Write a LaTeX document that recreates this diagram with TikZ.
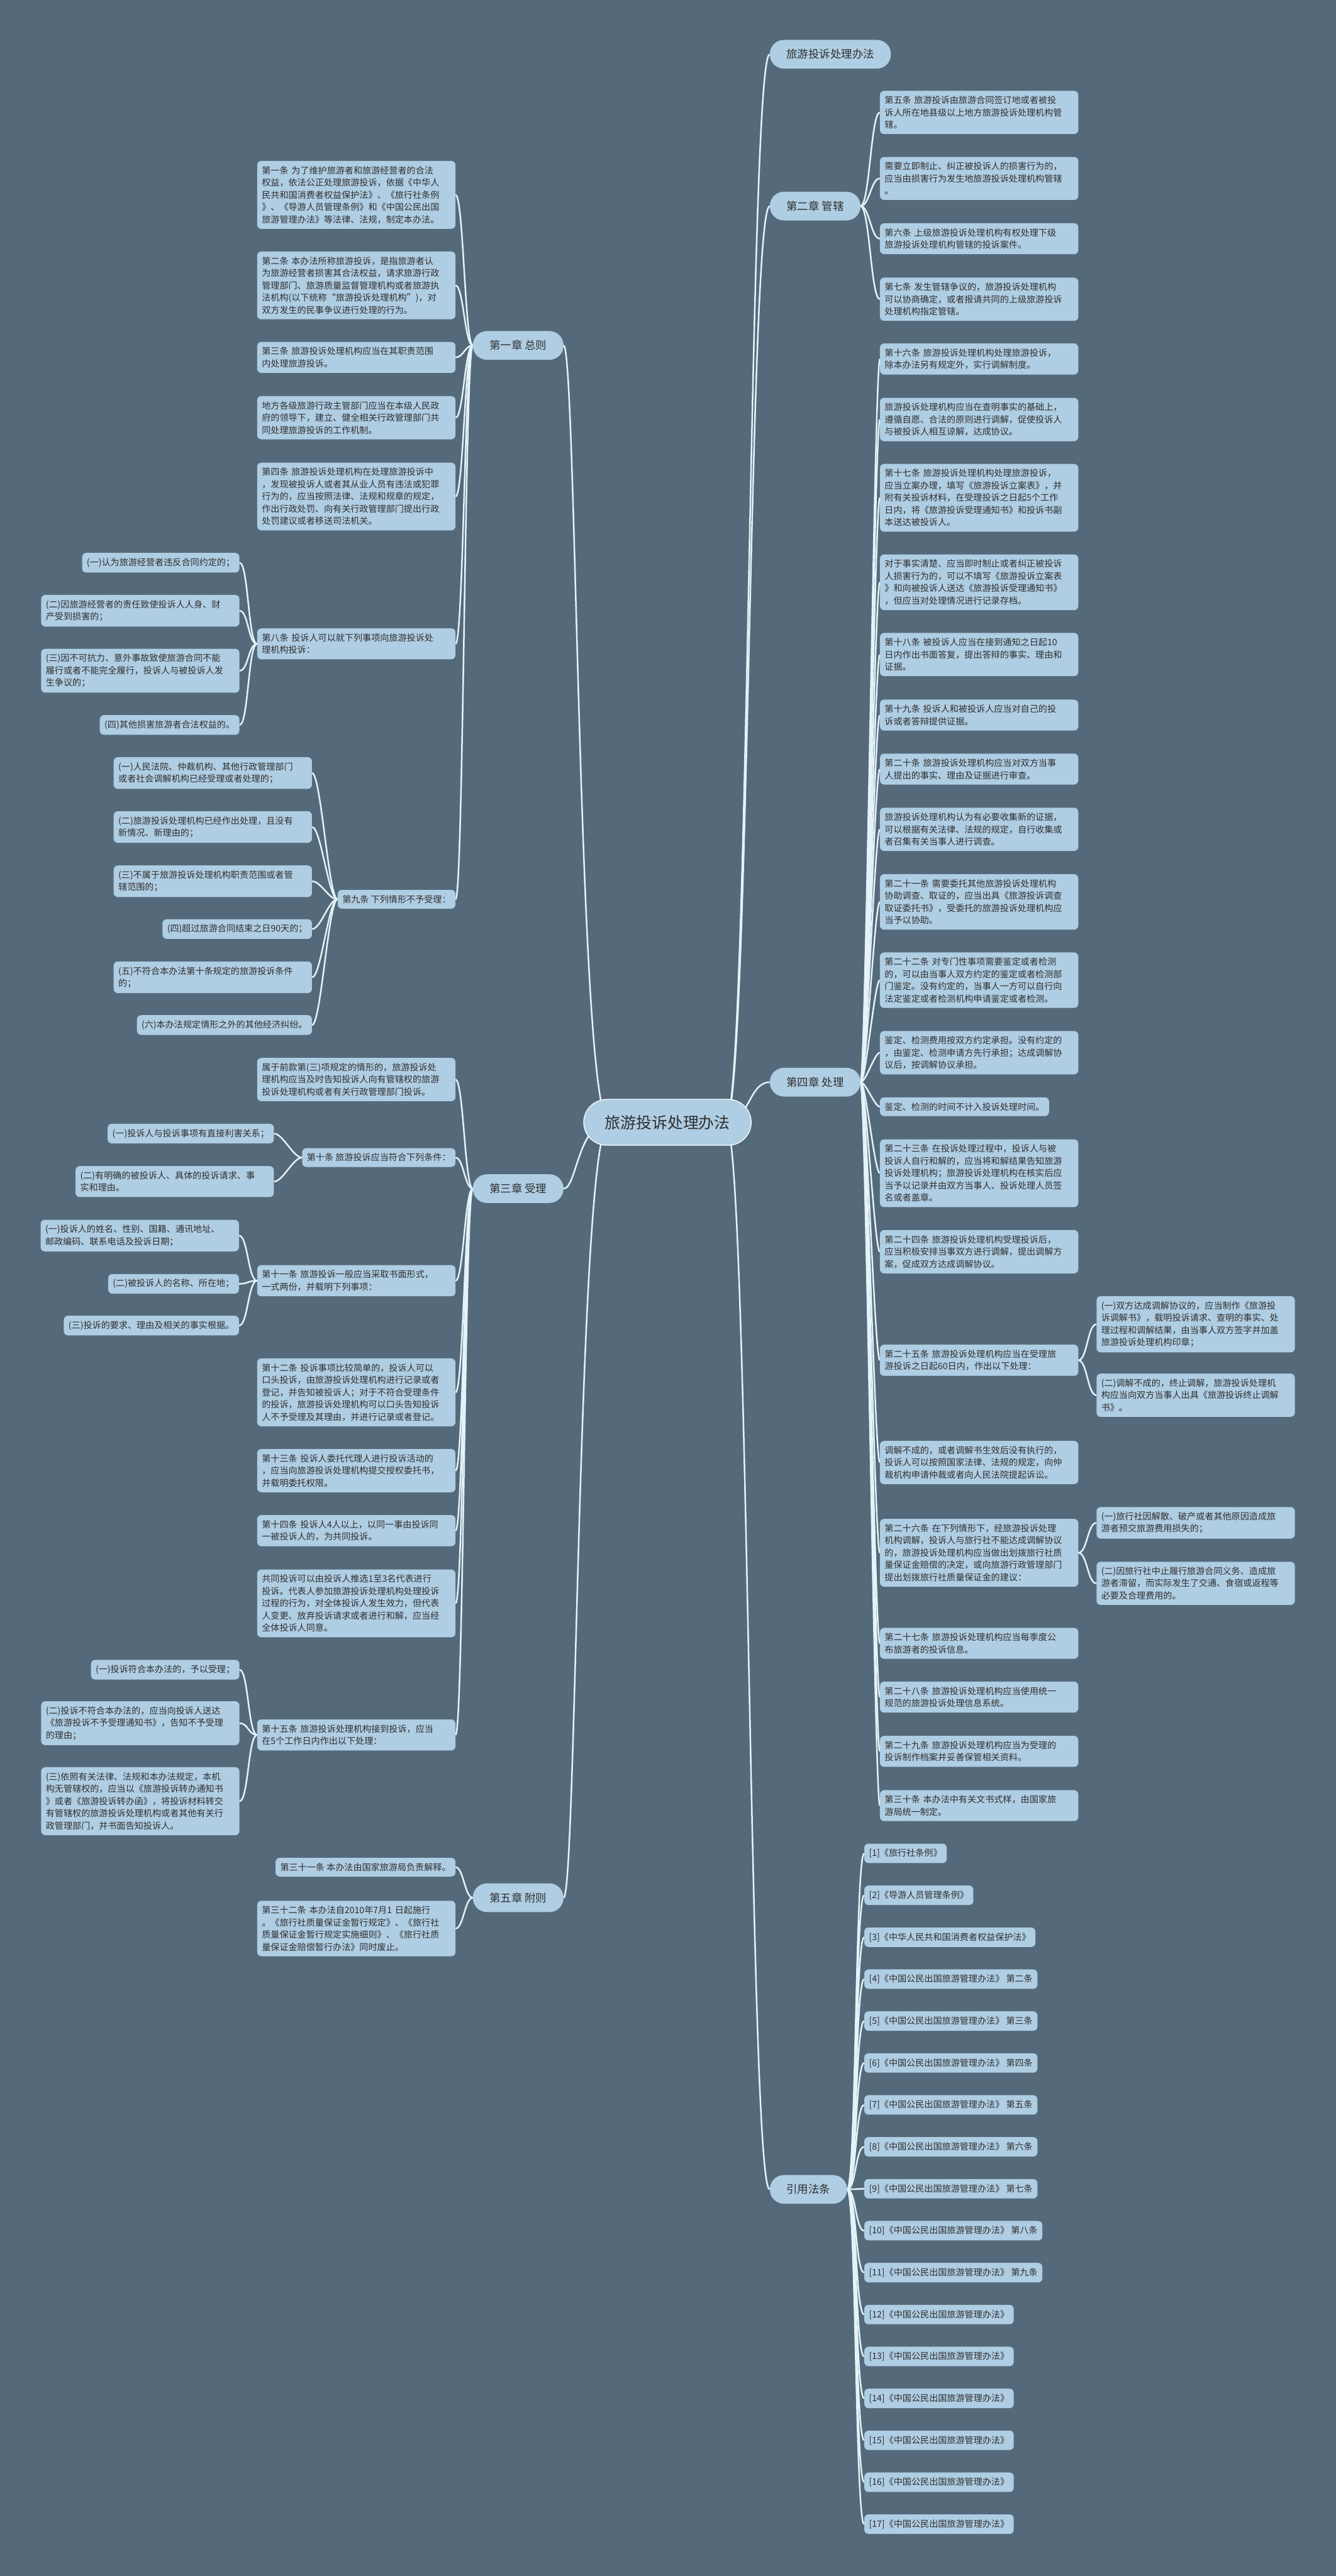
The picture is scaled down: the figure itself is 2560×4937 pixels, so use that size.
\documentclass[tikz,border=0pt]{standalone}
\usepackage{fontspec}
\setmainfont{Noto Sans CJK SC}
\usetikzlibrary{calc}
\definecolor{bgc}{HTML}{546A7A}
\definecolor{boxc}{HTML}{AFCDE3}
\definecolor{txtc}{HTML}{2F2F2F}
\definecolor{linec}{HTML}{E4F2F9}
\pgfdeclarelayer{bglayer}
\pgfdeclarelayer{lines}
\pgfsetlayers{bglayer,lines,main}
\tikzset{
  box/.style={fill=boxc, rounded corners=8pt, text=txtc, font=\fontsize{17}{23.5}\selectfont, inner xsep=9pt, inner ysep=10pt, align=left},
  wbox/.style={box, text width=362pt},
  pill/.style={fill=boxc, rounded corners=27pt, text=txtc, font=\fontsize{21}{25}\selectfont, inner xsep=32pt, minimum height=55pt},
  rootn/.style={fill=boxc, draw=white, line width=1.5pt, rounded corners=44pt, text=txtc, font=\fontsize{30}{34}\selectfont, inner xsep=32pt, minimum height=88pt, minimum width=321pt},
  link/.style={draw=linec, line width=3pt}
}
\newcommand\rl[3][17]{\draw[link] (#2.east) .. controls +(#1,0) and +(-#1,0) .. (#3.west);}
\newcommand\lk[3][17]{\draw[link] (#2.west) .. controls +(-#1,0) and +(#1,0) .. (#3.east);}
\newcommand\rootr[1]{\draw[link] ($(root.east)+(-50,0)$) .. controls +(45,0) and +(-40,0) .. (#1.west);}
\newcommand\rootl[1]{\draw[link] ($(root.west)+(50,0)$) .. controls +(-60,0) and +(25,0) .. (#1.east);}
\begin{document}
\begin{tikzpicture}[x=1pt,y=-1pt]
\begin{pgfonlayer}{bglayer}
\fill[bgc] (0,0) rectangle (2560,4937);
\end{pgfonlayer}
\useasboundingbox (0,0) rectangle (2560,4937);

% root
\node[rootn] (root) at (1279,2151) {旅游投诉处理办法};

% right level 1
\node[pill, anchor=west] (r1) at (1475,104) {旅游投诉处理办法};
\node[pill, anchor=west] (r2) at (1475,395) {第二章 管辖};
\node[pill, anchor=west] (r3) at (1475,2074) {第四章 处理};
\node[pill, anchor=west] (r4) at (1475,4196) {引用法条};

% left level 1
\node[pill, anchor=east] (l1) at (1080,662) {第一章 总则};
\node[pill, anchor=east] (l3) at (1080,2278) {第三章 受理};
\node[pill, anchor=east] (l5) at (1080,3637) {第五章 附则};

% chapter 2
\node[wbox, anchor=west] (a5) at (1686,215.5) {第五条 旅游投诉由旅游合同签订地或者被投\\诉人所在地县级以上地方旅游投诉处理机构管\\辖。};
\node[wbox, anchor=west] (a5b) at (1686,342) {需要立即制止、纠正被投诉人的损害行为的，\\应当由损害行为发生地旅游投诉处理机构管辖\\。};
\node[wbox, anchor=west] (a6) at (1686,457.5) {第六条 上级旅游投诉处理机构有权处理下级\\旅游投诉处理机构管辖的投诉案件。};
\node[wbox, anchor=west] (a7) at (1686,573.5) {第七条 发生管辖争议的，旅游投诉处理机构\\可以协商确定，或者报请共同的上级旅游投诉\\处理机构指定管辖。};

% chapter 4
\node[wbox, anchor=west] (a16) at (1686,688) {第十六条 旅游投诉处理机构处理旅游投诉，\\除本办法另有规定外，实行调解制度。};
\node[wbox, anchor=west] (a16b) at (1686,804) {旅游投诉处理机构应当在查明事实的基础上，\\遵循自愿、合法的原则进行调解，促使投诉人\\与被投诉人相互谅解，达成协议。};
\node[wbox, anchor=west] (a17) at (1686,954) {第十七条 旅游投诉处理机构处理旅游投诉，\\应当立案办理，填写《旅游投诉立案表》，并\\附有关投诉材料，在受理投诉之日起5个工作\\日内，将《旅游投诉受理通知书》和投诉书副\\本送达被投诉人。};
\node[wbox, anchor=west] (a17b) at (1686,1116) {对于事实清楚、应当即时制止或者纠正被投诉\\人损害行为的，可以不填写《旅游投诉立案表\\》和向被投诉人送达《旅游投诉受理通知书》\\，但应当对处理情况进行记录存档。};
\node[wbox, anchor=west] (a18) at (1686,1254.5) {第十八条 被投诉人应当在接到通知之日起10\\日内作出书面答复，提出答辩的事实、理由和\\证据。};
\node[wbox, anchor=west] (a19) at (1686,1370.5) {第十九条 投诉人和被投诉人应当对自己的投\\诉或者答辩提供证据。};
\node[wbox, anchor=west] (a20) at (1686,1474) {第二十条 旅游投诉处理机构应当对双方当事\\人提出的事实、理由及证据进行审查。};
\node[wbox, anchor=west] (a20b) at (1686,1589.5) {旅游投诉处理机构认为有必要收集新的证据，\\可以根据有关法律、法规的规定，自行收集或\\者召集有关当事人进行调查。};
\node[wbox, anchor=west] (a21) at (1686,1728.5) {第二十一条 需要委托其他旅游投诉处理机构\\协助调查、取证的，应当出具《旅游投诉调查\\取证委托书》，受委托的旅游投诉处理机构应\\当予以协助。};
\node[wbox, anchor=west] (a22) at (1686,1878.5) {第二十二条 对专门性事项需要鉴定或者检测\\的，可以由当事人双方约定的鉴定或者检测部\\门鉴定。没有约定的，当事人一方可以自行向\\法定鉴定或者检测机构申请鉴定或者检测。};
\node[wbox, anchor=west] (a22b) at (1686,2017.5) {鉴定、检测费用按双方约定承担。没有约定的\\，由鉴定、检测申请方先行承担；达成调解协\\议后，按调解协议承担。};
\node[box, anchor=west] (a22c) at (1686,2121) {鉴定、检测的时间不计入投诉处理时间。};
\node[wbox, anchor=west] (a23) at (1686,2248.5) {第二十三条 在投诉处理过程中，投诉人与被\\投诉人自行和解的，应当将和解结果告知旅游\\投诉处理机构；旅游投诉处理机构在核实后应\\当予以记录并由双方当事人、投诉处理人员签\\名或者盖章。};
\node[wbox, anchor=west] (a24) at (1686,2399) {第二十四条 旅游投诉处理机构受理投诉后，\\应当积极安排当事双方进行调解，提出调解方\\案，促成双方达成调解协议。};
\node[wbox, anchor=west] (a25) at (1686,2607) {第二十五条 旅游投诉处理机构应当在受理旅\\游投诉之日起60日内，作出以下处理：};
\node[wbox, anchor=west] (a25a) at (2101,2538) {(一)双方达成调解协议的，应当制作《旅游投\\诉调解书》，载明投诉请求、查明的事实、处\\理过程和调解结果，由当事人双方签字并加盖\\旅游投诉处理机构印章；};
\node[wbox, anchor=west] (a25b) at (2101,2674) {(二)调解不成的，终止调解，旅游投诉处理机\\构应当向双方当事人出具《旅游投诉终止调解\\书》。};
\node[wbox, anchor=west] (a25c) at (1686,2803) {调解不成的，或者调解书生效后没有执行的，\\投诉人可以按照国家法律、法规的规定，向仲\\裁机构申请仲裁或者向人民法院提起诉讼。};
\node[wbox, anchor=west] (a26) at (1686,2976) {第二十六条 在下列情形下，经旅游投诉处理\\机构调解，投诉人与旅行社不能达成调解协议\\的，旅游投诉处理机构应当做出划拨旅行社质\\量保证金赔偿的决定，或向旅游行政管理部门\\提出划拨旅行社质量保证金的建议：};
\node[wbox, anchor=west] (a26a) at (2101,2918.5) {(一)旅行社因解散、破产或者其他原因造成旅\\游者预交旅游费用损失的；};
\node[wbox, anchor=west] (a26b) at (2101,3034.5) {(二)因旅行社中止履行旅游合同义务、造成旅\\游者滞留，而实际发生了交通、食宿或返程等\\必要及合理费用的。};
\node[wbox, anchor=west] (a27) at (1686,3149.5) {第二十七条 旅游投诉处理机构应当每季度公\\布旅游者的投诉信息。};
\node[wbox, anchor=west] (a28) at (1686,3252.5) {第二十八条 旅游投诉处理机构应当使用统一\\规范的旅游投诉处理信息系统。};
\node[wbox, anchor=west] (a29) at (1686,3356.5) {第二十九条 旅游投诉处理机构应当为受理的\\投诉制作档案并妥善保管相关资料。};
\node[wbox, anchor=west] (a30) at (1686,3460.5) {第三十条 本办法中有关文书式样，由国家旅\\游局统一制定。};

% references
\node[box, anchor=west] (f1) at (1656,3552) {[1]《旅行社条例》};
\node[box, anchor=west] (f2) at (1656,3632.35) {[2]《导游人员管理条例》};
\node[box, anchor=west] (f3) at (1656,3712.7) {[3]《中华人民共和国消费者权益保护法》};
\node[box, anchor=west] (f4) at (1656,3793.05) {[4]《中国公民出国旅游管理办法》 第二条};
\node[box, anchor=west] (f5) at (1656,3873.4) {[5]《中国公民出国旅游管理办法》 第三条};
\node[box, anchor=west] (f6) at (1656,3953.75) {[6]《中国公民出国旅游管理办法》 第四条};
\node[box, anchor=west] (f7) at (1656,4034.1) {[7]《中国公民出国旅游管理办法》 第五条};
\node[box, anchor=west] (f8) at (1656,4114.45) {[8]《中国公民出国旅游管理办法》 第六条};
\node[box, anchor=west] (f9) at (1656,4194.8) {[9]《中国公民出国旅游管理办法》 第七条};
\node[box, anchor=west] (f10) at (1656,4275.15) {[10]《中国公民出国旅游管理办法》 第八条};
\node[box, anchor=west] (f11) at (1656,4355.5) {[11]《中国公民出国旅游管理办法》 第九条};
\node[box, anchor=west] (f12) at (1656,4435.85) {[12]《中国公民出国旅游管理办法》};
\node[box, anchor=west] (f13) at (1656,4516.2) {[13]《中国公民出国旅游管理办法》};
\node[box, anchor=west] (f14) at (1656,4596.55) {[14]《中国公民出国旅游管理办法》};
\node[box, anchor=west] (f15) at (1656,4676.9) {[15]《中国公民出国旅游管理办法》};
\node[box, anchor=west] (f16) at (1656,4757.25) {[16]《中国公民出国旅游管理办法》};
\node[box, anchor=west] (f17) at (1656,4837.6) {[17]《中国公民出国旅游管理办法》};

% chapter 1
\node[wbox, anchor=east] (b1) at (873,373.5) {第一条 为了维护旅游者和旅游经营者的合法\\权益，依法公正处理旅游投诉，依据《中华人\\民共和国消费者权益保护法》、《旅行社条例\\》、《导游人员管理条例》和《中国公民出国\\旅游管理办法》等法律、法规，制定本办法。};
\node[wbox, anchor=east] (b2) at (873,547) {第二条 本办法所称旅游投诉，是指旅游者认\\为旅游经营者损害其合法权益，请求旅游行政\\管理部门、旅游质量监督管理机构或者旅游执\\法机构(以下统称“旅游投诉处理机构”)，对\\双方发生的民事争议进行处理的行为。};
\node[wbox, anchor=east] (b3) at (873,685) {第三条 旅游投诉处理机构应当在其职责范围\\内处理旅游投诉。};
\node[wbox, anchor=east] (b3b) at (873,800.5) {地方各级旅游行政主管部门应当在本级人民政\\府的领导下，建立、健全相关行政管理部门共\\同处理旅游投诉的工作机制。};
\node[wbox, anchor=east] (b4) at (873,951.5) {第四条 旅游投诉处理机构在处理旅游投诉中\\，发现被投诉人或者其从业人员有违法或犯罪\\行为的，应当按照法律、法规和规章的规定，\\作出行政处罚、向有关行政管理部门提出行政\\处罚建议或者移送司法机关。};
\node[wbox, anchor=east] (b8) at (873,1234) {第八条 投诉人可以就下列事项向旅游投诉处\\理机构投诉：};
\node[box, anchor=east] (b8a) at (459,1078.5) {(一)认为旅游经营者违反合同约定的；};
\node[wbox, anchor=east] (b8b) at (459,1170.5) {(二)因旅游经营者的责任致使投诉人人身、财\\产受到损害的；};
\node[wbox, anchor=east] (b8c) at (459,1285.5) {(三)因不可抗力、意外事故致使旅游合同不能\\履行或者不能完全履行，投诉人与被投诉人发\\生争议的；};
\node[box, anchor=east] (b8d) at (459,1389.5) {(四)其他损害旅游者合法权益的。};
\node[box, anchor=east] (b9) at (873,1723.5) {第九条 下列情形不予受理：};
\node[wbox, anchor=east] (b9a) at (598,1481.5) {(一)人民法院、仲裁机构、其他行政管理部门\\或者社会调解机构已经受理或者处理的；};
\node[wbox, anchor=east] (b9b) at (598,1585) {(二)旅游投诉处理机构已经作出处理，且没有\\新情况、新理由的；};
\node[wbox, anchor=east] (b9c) at (598,1689) {(三)不属于旅游投诉处理机构职责范围或者管\\辖范围的；};
\node[box, anchor=east] (b9d) at (598,1780.5) {(四)超过旅游合同结束之日90天的；};
\node[wbox, anchor=east] (b9e) at (598,1873) {(五)不符合本办法第十条规定的旅游投诉条件\\的；};
\node[box, anchor=east] (b9f) at (598,1964.5) {(六)本办法规定情形之外的其他经济纠纷。};

% chapter 3
\node[wbox, anchor=east] (c1) at (873,2069) {属于前款第(三)项规定的情形的，旅游投诉处\\理机构应当及时告知投诉人向有管辖权的旅游\\投诉处理机构或者有关行政管理部门投诉。};
\node[box, anchor=east] (c10) at (873,2218.5) {第十条 旅游投诉应当符合下列条件：};
\node[box, anchor=east] (c10a) at (525,2172.5) {(一)投诉人与投诉事项有直接利害关系；};
\node[wbox, anchor=east] (c10b) at (525,2264.5) {(二)有明确的被投诉人、具体的投诉请求、事\\实和理由。};
\node[wbox, anchor=east] (c11) at (873,2454.5) {第十一条 旅游投诉一般应当采取书面形式，\\一式两份，并载明下列事项：};
\node[wbox, anchor=east] (c11a) at (458,2368) {(一)投诉人的姓名、性别、国籍、通讯地址、\\邮政编码、联系电话及投诉日期；};
\node[box, anchor=east] (c11b) at (458,2460.5) {(二)被投诉人的名称、所在地；};
\node[box, anchor=east] (c11c) at (458,2540.5) {(三)投诉的要求、理由及相关的事实根据。};
\node[wbox, anchor=east] (c12) at (873,2668.5) {第十二条 投诉事项比较简单的，投诉人可以\\口头投诉，由旅游投诉处理机构进行记录或者\\登记，并告知被投诉人；对于不符合受理条件\\的投诉，旅游投诉处理机构可以口头告知投诉\\人不予受理及其理由，并进行记录或者登记。};
\node[wbox, anchor=east] (c13) at (873,2818.5) {第十三条 投诉人委托代理人进行投诉活动的\\，应当向旅游投诉处理机构提交授权委托书，\\并载明委托权限。};
\node[wbox, anchor=east] (c14) at (873,2933.5) {第十四条 投诉人4人以上，以同一事由投诉同\\一被投诉人的，为共同投诉。};
\node[wbox, anchor=east] (c14b) at (873,3073) {共同投诉可以由投诉人推选1至3名代表进行\\投诉。代表人参加旅游投诉处理机构处理投诉\\过程的行为，对全体投诉人发生效力，但代表\\人变更、放弃投诉请求或者进行和解，应当经\\全体投诉人同意。};
\node[wbox, anchor=east] (c15) at (873,3325) {第十五条 旅游投诉处理机构接到投诉，应当\\在5个工作日内作出以下处理：};
\node[box, anchor=east] (c15a) at (459,3200) {(一)投诉符合本办法的，予以受理；};
\node[wbox, anchor=east] (c15b) at (459,3302.5) {(二)投诉不符合本办法的，应当向投诉人送达\\《旅游投诉不予受理通知书》，告知不予受理\\的理由；};
\node[wbox, anchor=east] (c15c) at (459,3452) {(三)依照有关法律、法规和本办法规定，本机\\构无管辖权的，应当以《旅游投诉转办通知书\\》或者《旅游投诉转办函》，将投诉材料转交\\有管辖权的旅游投诉处理机构或者其他有关行\\政管理部门，并书面告知投诉人。};

% chapter 5
\node[box, anchor=east] (d31) at (873,3578.5) {第三十一条 本办法由国家旅游局负责解释。};
\node[wbox, anchor=east] (d32) at (873,3696) {第三十二条 本办法自2010年7月1 日起施行\\。《旅行社质量保证金暂行规定》、《旅行社\\质量保证金暂行规定实施细则》、《旅行社质\\量保证金赔偿暂行办法》同时废止。};

\begin{pgfonlayer}{lines}
% links: root
\foreach \c in {r1,r2,r3,r4}{\rootr{\c}}
\foreach \c in {l1,l3,l5}{\rootl{\c}}
% right
\foreach \c in {a5,a5b,a6,a7}{\rl{r2}{\c}}
\foreach \c in {a16,a16b,a17,a17b,a18,a19,a20,a20b,a21,a22,a22b,a22c,a23,a24,a25,a25c,a26,a27,a28,a29,a30}{\rl[10]{r3}{\c}}
\foreach \c in {a25a,a25b}{\rl{a25}{\c}}
\foreach \c in {a26a,a26b}{\rl{a26}{\c}}
\foreach \c in {f1,f2,f3,f4,f5,f6,f7,f8,f9,f10,f11,f12,f13,f14,f15,f16,f17}{\rl{r4}{\c}}
% left
\foreach \c in {b1,b2,b3,b3b,b4,b8,b9}{\lk[15]{l1}{\c}}
\foreach \c in {b8a,b8b,b8c,b8d}{\lk{b8}{\c}}
\foreach \c in {b9a,b9b,b9c,b9d,b9e,b9f}{\lk{b9}{\c}}
\foreach \c in {c1,c10,c11,c12,c13,c14,c14b,c15}{\lk[15]{l3}{\c}}
\foreach \c in {c10a,c10b}{\lk{c10}{\c}}
\foreach \c in {c11a,c11b,c11c}{\lk{c11}{\c}}
\foreach \c in {c15a,c15b,c15c}{\lk{c15}{\c}}
\foreach \c in {d31,d32}{\lk[15]{l5}{\c}}
\end{pgfonlayer}
\end{tikzpicture}
\end{document}
